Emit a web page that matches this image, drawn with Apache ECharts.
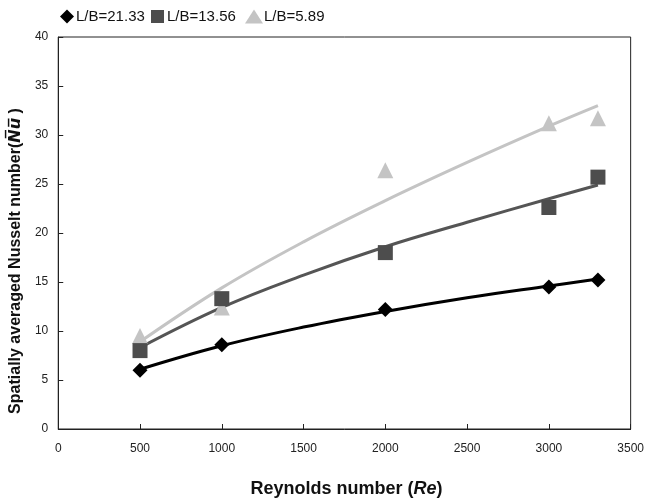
<!DOCTYPE html>
<html>
<head>
<meta charset="utf-8">
<script src="https://cdn.jsdelivr.net/npm/echarts@6/dist/echarts.min.js"></script>
<style>html,body{margin:0;padding:0;background:#fff;}#c{width:647px;height:503px;}</style>
</head>
<body>
<div id="c"></div>
<script>
// Measured points
const reynolds = [500, 1000, 2000, 3000, 3300];
const nuLB2133 = [6.0, 8.6, 12.2, 14.5, 15.2];
const nuLB1356 = [8.0, 13.3, 18.0, 22.6, 25.7];
const nuLB589 = [9.5, 12.4, 26.4, 31.2, 31.7];
// Trend curves
const trendRe = [500, 1000, 1500, 2000, 2500, 3000, 3300];
const trendLB2133 = [6.1, 8.5, 10.4, 12.0, 13.4, 14.6, 15.3];
const trendLB1356 = [8.3, 12.4, 15.7, 18.6, 21.1, 23.5, 24.9];
const trendLB589 = [8.9, 14.4, 19.1, 23.3, 27.2, 30.9, 33.0];
const seriesNames = ['L/B=21.33', 'L/B=13.56', 'L/B=5.89'];
const xTicks = {min: 0, max: 3500, interval: 500};
const yTicks = {min: 0, max: 40, interval: 5};

const pair = (xs, ys) => xs.map((x, i) => [x, ys[i]]);
const FONT = 'Liberation Sans, Arial, sans-serif';
const colors = ['#000000', '#4d4d4d', '#c4c4c4'];
const legendText = pad => ({fontSize: 15, color: '#111', fontFamily: FONT, padding: [0, 0, 0, pad]});
const chart = echarts.init(document.getElementById('c'));
chart.setOption({
  animation: false,
  backgroundColor: '#fff',
  textStyle: {fontFamily: FONT},
  legend: [
    {left: 60, top: 9, padding: 0, itemWidth: 14, itemHeight: 14, textStyle: legendText(-3), data: [{name: seriesNames[0], icon: 'diamond'}]},
    {left: 151, top: 9, padding: 0, itemWidth: 13, itemHeight: 13, textStyle: legendText(-2), data: [{name: seriesNames[1], icon: 'rect'}]},
    {left: 245, top: 9, padding: 0, itemWidth: 18, itemHeight: 14, textStyle: legendText(-4), data: [{name: seriesNames[2], icon: 'triangle'}]}
  ],
  grid: {left: 56, right: 13, top: 37, bottom: 74, show: true, borderColor: '#222', borderWidth: 1},
  xAxis: {
    type: 'value', min: xTicks.min, max: xTicks.max, interval: xTicks.interval,
    name: '{b|Reynolds number (}{bi|Re}{b|)}', nameLocation: 'middle', nameGap: 51,
    nameTextStyle: {padding: [0, 0, 0, 4], rich: {
      b: {fontSize: 18, fontWeight: 'bold', color: '#111', fontFamily: FONT},
      bi: {fontSize: 18, fontWeight: 'bold', fontStyle: 'italic', color: '#111', fontFamily: FONT}
    }},
    axisLine: {lineStyle: {color: '#222', width: 1}},
    axisTick: {inside: true, length: 5, lineStyle: {color: '#222'}},
    axisLabel: {fontSize: 12, color: '#222', margin: 14, fontFamily: FONT, formatter: v => String(v)},
    splitLine: {show: false}
  },
  yAxis: {
    type: 'value', min: yTicks.min, max: yTicks.max, interval: yTicks.interval,
    name: '{b|Spatially averaged Nusselt number(}{bi|N\u0305u\u0305}{b| )}', nameLocation: 'middle', nameGap: 31,
    nameTextStyle: {padding: [0, 56, 0, 0], rich: {
      b: {fontSize: 16, fontWeight: 'bold', color: '#111', fontFamily: FONT},
      bi: {fontSize: 16, fontWeight: 'bold', fontStyle: 'italic', color: '#111', fontFamily: 'DejaVu Sans, ' + FONT}
    }},
    axisLine: {show: true, lineStyle: {color: '#222', width: 1}},
    axisTick: {show: true, inside: true, length: 5, lineStyle: {color: '#222'}},
    axisLabel: {fontSize: 12, color: '#222', margin: 10, fontFamily: FONT},
    splitLine: {show: false}
  },
  series: [
    {name: 't0', type: 'line', smooth: 0.4, showSymbol: false, data: pair(trendRe, trendLB2133), lineStyle: {color: colors[0], width: 3}, z: 2, silent: true},
    {name: 't1', type: 'line', smooth: 0.4, showSymbol: false, data: pair(trendRe, trendLB1356), lineStyle: {color: '#555555', width: 3}, z: 2, silent: true},
    {name: 't2', type: 'line', smooth: 0.4, showSymbol: false, data: pair(trendRe, trendLB589), lineStyle: {color: colors[2], width: 3}, z: 2, silent: true},
    {name: seriesNames[0], type: 'scatter', symbol: 'diamond', symbolSize: 15, data: pair(reynolds, nuLB2133), itemStyle: {color: colors[0], opacity: 1}, z: 5},
    {name: seriesNames[1], type: 'scatter', symbol: 'rect', symbolSize: 15, data: pair(reynolds, nuLB1356), itemStyle: {color: colors[1], opacity: 1}, z: 4},
    {name: seriesNames[2], type: 'scatter', symbol: 'triangle', symbolSize: 16, data: pair(reynolds, nuLB589), itemStyle: {color: colors[2], opacity: 1}, z: 3}
  ]
});
</script>
</body>
</html>
